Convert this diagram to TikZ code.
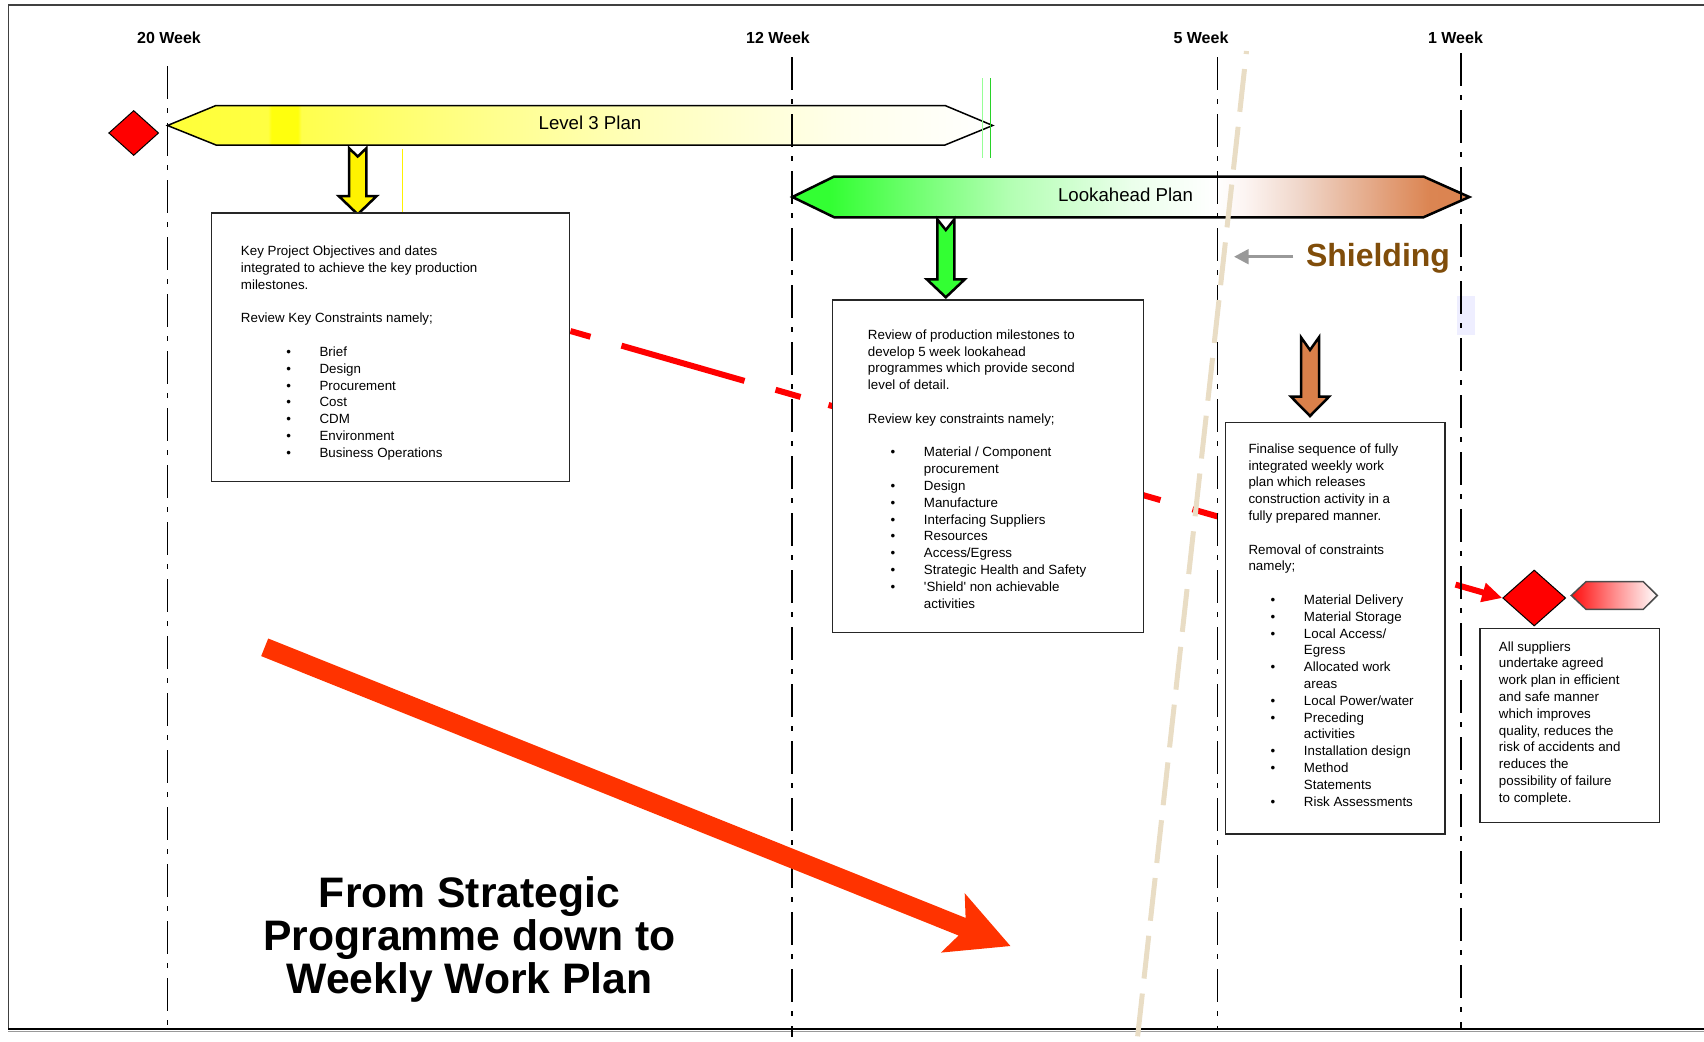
\documentclass[tikz,border=0pt]{standalone}
\usepackage{fontspec}
\setmainfont{Liberation Sans}
\usetikzlibrary{arrows.meta,shapes.geometric,backgrounds}

% one drawing unit = one pixel of the 1704 x 1042 canvas
\newdimen\pxu
\pxu=0.75pt

\definecolor{shieldbrown}{RGB}{128,77,10}
\definecolor{tanline}{RGB}{233,221,197}
\definecolor{bigred}{RGB}{255,51,0}
\definecolor{arrowgreen}{RGB}{51,255,51}
\definecolor{arrowbrown}{RGB}{218,128,74}
\definecolor{paleblue}{RGB}{238,238,255}
\definecolor{thingreenA}{RGB}{150,255,150}
\definecolor{thingreenB}{RGB}{40,210,40}
\definecolor{pointergray}{RGB}{153,153,153}

% bar fills: the bar spans 25bp..75bp of each shading
\pgfdeclarehorizontalshading{levelthree}{100bp}{%
  rgb(0bp)=(1,1,0.22); rgb(25bp)=(1,1,0.22); rgb(31.1bp)=(1,1,0.26);
  rgb(31.3bp)=(1,1,0.05); rgb(32.9bp)=(1,1,0.05); rgb(33.1bp)=(1,1,0.3);
  rgb(42bp)=(1,1,0.5); rgb(54bp)=(1,1,0.74); rgb(66bp)=(1,1,0.92);
  rgb(75bp)=(1,1,1); rgb(100bp)=(1,1,1)}
\pgfdeclarehorizontalshading{lookahead}{100bp}{%
  rgb(0bp)=(0.2,1,0.2); rgb(27.8bp)=(0.2,1,0.2); rgb(33bp)=(0.4,1,0.4);
  rgb(41bp)=(0.7,1,0.7); rgb(50bp)=(0.92,1,0.92); rgb(56.2bp)=(1,1,1);
  rgb(58.4bp)=(0.99,0.96,0.95); rgb(62.5bp)=(0.94,0.84,0.79);
  rgb(68.4bp)=(0.89,0.64,0.5); rgb(72.1bp)=(0.86,0.52,0.32);
  rgb(100bp)=(0.85,0.5,0.3)}
\pgfdeclarehorizontalshading{redfade}{100bp}{%
  rgb(0bp)=(1,0.05,0.05); rgb(25bp)=(1,0.05,0.05); rgb(50bp)=(1,0.55,0.55);
  rgb(75bp)=(1,1,1); rgb(100bp)=(1,1,1)}

% bullet line and continuation line of a list
\newcommand{\bl}[2]{\hspace*{#1\pxu}\makebox[33.3\pxu][l]{\textbullet}#2}
\newcommand{\bc}[2]{\hspace*{#1\pxu}\hspace*{33.3\pxu}#2}

\begin{document}
\begin{tikzpicture}[x=0.75pt,y=-0.75pt,
  every node/.style={inner sep=0pt},
  weekline/.style={line width=1.5\pxu,
    dash pattern=on 24.75pt off 6.75pt on 3.75pt off 7.5pt},
  weeklabel/.style={font=\bfseries\fontsize{12}{14}\selectfont, anchor=base},
  barlabel/.style={font=\fontsize{14}{16}\selectfont},
  downarrow/.style={draw=black, line width=2.5\pxu, line join=miter},
  infobox/.style={rectangle, draw=black!85, line width=1.5\pxu, fill=white},
  infotext/.style={anchor=base west, font=\fontsize{10}{12.6}\selectfont},
  milestone/.style={diamond, draw=black, line width=1\pxu, fill=red},
  redlink/.style={draw=red, line width=6\pxu,
    dash pattern=on 15.6pt off 24.2pt on 96pt off 24.2pt on 19.5pt off 21.8pt
      on 259pt off 25pt on 19.5pt off 185.7pt on 300pt,
    -{Triangle[length=15pt,width=14pt]}}
]
\useasboundingbox (0,0) rectangle (1704,1042);

% page frame
\draw[black!75, line width=1.5\pxu] (1704,5) -- (8.3,5) -- (8.3,1029);
\draw[black, line width=2\pxu] (8.3,1029) -- (1704,1029);
\draw[black!40, line width=1\pxu] (8.3,1031) -- (1704,1031);

% small tinted patch beside the 1 week line
\fill[paleblue] (1457,296) rectangle (1475,335);

% programme bars
\shade[shading=levelthree, draw=black, line width=1.5\pxu, line join=miter]
  (167.5,125.5) -- (216,105.5) -- (945,105.5) -- (992.7,125.5)
  -- (945,145) -- (216,145) -- cycle;
\shade[shading=lookahead, draw=black, line width=2.5\pxu, line join=miter]
  (792.4,197) -- (834.2,176.5) -- (1423.4,176.5) -- (1469.3,197)
  -- (1423.4,217.3) -- (834.2,217.3) -- cycle;
\shade[shading=redfade, draw=black!70, line width=1.5\pxu, line join=miter]
  (1571.3,595.5) -- (1586,581.7) -- (1643.3,581.7) -- (1657.3,595.5)
  -- (1643.3,609.3) -- (1586,609.3) -- cycle;

\node[barlabel] (l3label) at (590,123.3) {Level 3 Plan};
\node[barlabel] (lalabel) at (1125.5,195) {Lookahead Plan};

% thin guide strokes
\draw[yellow, line width=1\pxu] (402.9,149) -- (402.9,215);
\draw[thingreenA, line width=1\pxu] (982.3,78) -- (982.3,157.7);
\draw[thingreenB, line width=1\pxu] (990.3,78) -- (990.3,157.7);

% week markers
\node[weeklabel] (w20) at (169,43.3) {20 Week};
\node[weeklabel] (w12) at (778,43.3) {12 Week};
\node[weeklabel] (w5) at (1201,43.7) {5 Week};
\node[weeklabel] (w1) at (1455.5,43.3) {1 Week};
\draw[weekline] (167.5,66) -- (167.5,1029);
\draw[weekline] (792,57) -- (792,1037);
\draw[weekline] (1217.5,57) -- (1217.5,1029);
\draw[weekline] (1461,53) -- (1461,1030);

% shielding boundary
\coordinate (shtop) at (1246.5,51);
\coordinate (shbot) at (1137,1042);
\draw[tanline, line width=5\pxu, dash pattern=on 32.3pt off 11.3pt, dash phase=30pt]
  (shtop) -- (shbot);

% hand-over arrows
\filldraw[downarrow, fill=yellow]
  (349.1,148.3) -- (357.7,156.5) -- (366.3,148.3) -- (366.3,196)
  -- (376.7,196) -- (357.7,214.3) -- (338.7,196) -- (349.1,196) -- cycle;
\filldraw[downarrow, fill=arrowgreen]
  (937.3,219.3) -- (945.8,230) -- (954.3,219.3) -- (954.3,279.3)
  -- (964.8,279.3) -- (945.8,297.3) -- (926.8,279.3) -- (937.3,279.3) -- cycle;
\filldraw[downarrow, fill=arrowbrown]
  (1301,337.3) -- (1310,350) -- (1319,337.3) -- (1319,396.7)
  -- (1329,396.7) -- (1310,416) -- (1291,396.7) -- (1301,396.7) -- cycle;

% information boxes
\node[infobox, minimum width=358\pxu, minimum height=268.7\pxu] (b1) at (390.7,347.3) {};
\node[infobox, minimum width=311\pxu, minimum height=332.7\pxu] (b2) at (988.2,466.3) {};
\node[infobox, minimum width=219.3\pxu, minimum height=411.7\pxu] (b3) at (1335.3,628.2) {};
\node[infobox, minimum width=179.3\pxu, minimum height=193.6\pxu] (b4) at (1569.7,725.5) {};

\node[infotext] (t1) at (240.7,255.7) {\parbox[t]{330\pxu}{%
Key Project Objectives and dates\\
integrated to achieve the key production\\
milestones.\\[12.6pt]
Review Key Constraints namely;\\[12.6pt]
\bl{45.3}{Brief}\\
\bl{45.3}{Design}\\
\bl{45.3}{Procurement}\\
\bl{45.3}{Cost}\\
\bl{45.3}{CDM}\\
\bl{45.3}{Environment}\\
\bl{45.3}{Business Operations}}};

\node[infotext] (t2) at (867.7,339.3) {\parbox[t]{270\pxu}{%
Review of production milestones to\\
develop 5 week lookahead\\
programmes which provide second\\
level of detail.\\[12.6pt]
Review key constraints namely;\\[12.6pt]
\bl{22.7}{Material / Component}\\
\bc{22.7}{procurement}\\
\bl{22.7}{Design}\\
\bl{22.7}{Manufacture}\\
\bl{22.7}{Interfacing Suppliers}\\
\bl{22.7}{Resources}\\
\bl{22.7}{Access/Egress}\\
\bl{22.7}{Strategic Health and Safety}\\
\bl{22.7}{\textquotesingle Shield\textquotesingle\ non achievable}\\
\bc{22.7}{activities}}};

\node[infotext] (t3) at (1248.3,453.3) {\parbox[t]{190\pxu}{%
Finalise sequence of fully\\
integrated weekly work\\
plan which releases\\
construction activity in a\\
fully prepared manner.\\[12.6pt]
Removal of constraints\\
namely;\\[12.6pt]
\bl{22.1}{Material Delivery}\\
\bl{22.1}{Material Storage}\\
\bl{22.1}{Local Access/}\\
\bc{22.1}{Egress}\\
\bl{22.1}{Allocated work}\\
\bc{22.1}{areas}\\
\bl{22.1}{Local Power/water}\\
\bl{22.1}{Preceding}\\
\bc{22.1}{activities}\\
\bl{22.1}{Installation design}\\
\bl{22.1}{Method}\\
\bc{22.1}{Statements}\\
\bl{22.1}{Risk Assessments}}};

\node[infotext] (t4) at (1498.7,651) {\parbox[t]{160\pxu}{%
All suppliers\\
undertake agreed\\
work plan in efficient\\
and safe manner\\
which improves\\
quality, reduces the\\
risk of accidents and\\
reduces the\\
possibility of failure\\
to complete.}};

% milestones
\node[milestone, minimum width=50\pxu, minimum height=45\pxu] (d1) at (133.7,133) {};
\node[milestone, minimum width=63\pxu, minimum height=56\pxu] (d2) at (1534.2,598) {};

% critical path link, passing behind the boxes
\coordinate (rstart) at ([yshift=12.2pt]b1.east);
\begin{pgfonlayer}{background}
\draw[redlink] (rstart) -- (d2.west);
\end{pgfonlayer}

% shielding label and pointer
\node[font=\bfseries\fontsize{24}{28}\selectfont, text=shieldbrown, anchor=base]
  (shield) at (1378,266) {Shielding};
\coordinate (shtip) at (1234,256.7);
\draw[pointergray, line width=3\pxu, -{Triangle[length=11pt,width=11pt]}]
  ([xshift=-9.2pt]shield.west |- shtip) -- (shtip);

% overall direction arrow and caption
\fill[bigred] (268.2,638.5) -- (965.6,917.9) -- (964.7,893.2) -- (1010.4,946)
  -- (940.9,952.6) -- (958.6,935.5) -- (261.2,656.1) -- cycle;
\node[anchor=base, font=\bfseries\fontsize{32}{32.6}\selectfont] (slogan)
  at (469.5,907) {\parbox[t]{600\pxu}{\centering From Strategic\\
  Programme down to\\ Weekly Work Plan}};
\end{tikzpicture}
\end{document}
